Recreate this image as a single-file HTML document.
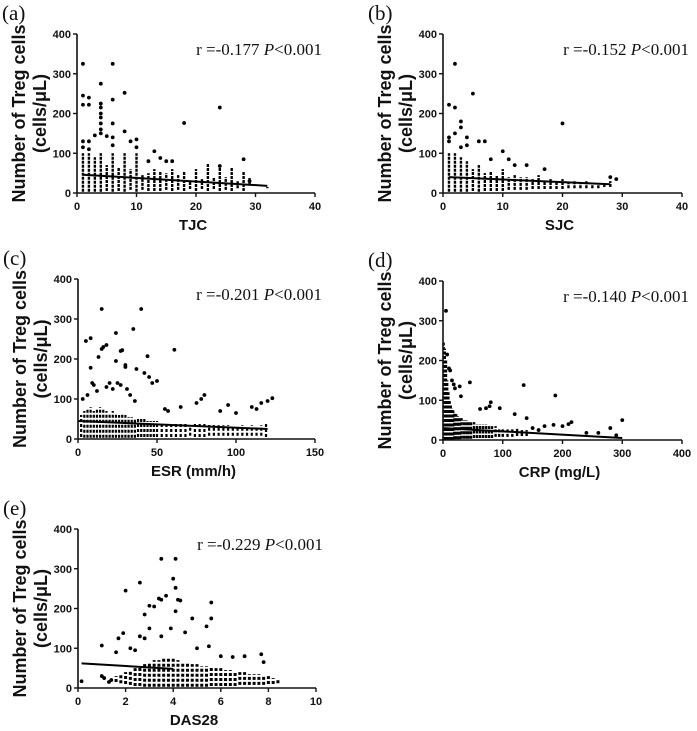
<!DOCTYPE html>
<html><head><meta charset="utf-8"><style>
html,body{margin:0;padding:0;background:#fff;}
svg{display:block;}
.tk{font:bold 11px "Liberation Sans",sans-serif;fill:#111;}
.xt{font:bold 15px "Liberation Sans",sans-serif;fill:#111;}
.yt{font:bold 18px "Liberation Sans",sans-serif;fill:#111;}
.st{font:17px "Liberation Serif",serif;fill:#111;}
.pl{font:21px "Liberation Serif",serif;fill:#111;}
</style></head><body>
<svg id="fig" width="697" height="731" viewBox="0 0 697 731" xmlns="http://www.w3.org/2000/svg"></svg>
<script>
// ---- Panel (a) TJC ----
const tjcColX = [1,2,3,4,5,6,7,8,9,10,11,12,13,14,15,16,17,18,19,20,21,22,23,24,25,26,27,28,29,32];
const tjcColHi = [100,100,90,100,70,100,65,100,60,100,45,50,60,55,50,60,45,55,30,60,35,75,40,65,40,65,30,55,40,15];
const tjcColLo = [3,3,3,3,5,3,5,3,8,3,8,5,5,5,8,5,8,5,10,5,10,5,10,5,8,5,12,5,20,12];
const tjcOutX = [1,1,1,1,2,2,2,4,4,4,4,4,4,4,4,6,6,6,6,8,8,3,5,9,10,10,13,14,15,16,18,24,28,1,2,6,12,24,29];
const tjcOutY = [325,245,222,130,240,222,130,275,225,215,200,190,175,160,150,325,235,175,140,252,155,145,143,130,135,115,105,88,80,80,176,215,85,115,110,120,80,68,30];
const tjcReg = [[1,46],[32,18]];
// ---- Panel (b) SJC ----
const sjcColX = [1,2,3,4,5,6,7,8,9,10,11,12,13,14,15,16,17,18,19,20,21,22,23,24,25,26,27,28];
const sjcColHi = [100,100,90,80,60,70,50,55,45,60,40,45,40,40,35,45,30,35,30,35,25,30,25,30,25,25,20,30];
const sjcColLo = [3,3,3,3,5,3,5,5,5,5,8,8,8,8,10,10,10,10,10,10,12,12,12,12,12,12,15,15];
const sjcOutX = [1,1,2,2,3,3,4,4,5,6,7,10,11,20,14,17,28,29,1,2,3,8,12];
const sjcOutY = [222,130,325,215,180,165,140,120,250,130,130,105,85,175,70,60,40,35,140,150,115,85,70];
const sjcReg = [[1,40],[28,22]];
// ---- Panel (c) ESR ----
const esrColX = [2,4,6,8,10,12,14,16,18,20,22,24,26,28,30,32,34,36,38,40,42,44,46,48,50,53,56,59,62,65,68,71,74,77,80,83,86,89,92,95,98,101,104,107,110,113,116,119];
const esrColHi = [60,70,75,80,70,75,80,75,70,65,70,65,60,65,60,55,55,50,50,50,50,45,45,45,45,40,40,40,40,38,38,35,40,38,40,35,35,35,35,35,30,30,35,30,35,30,35,40];
const esrColLo = [5,3,3,3,3,3,3,3,3,3,3,3,3,3,3,3,3,3,5,5,5,5,5,5,5,5,5,5,5,5,5,8,5,5,5,8,8,8,8,8,8,8,8,8,8,8,8,5];
const esrOutX = [15,40,35,24,5,8,18,16,15,28,27,61,44,13,8,37,30,30,24,42,45,47,50,9,10,20,25,27,22,18,31,6,3,80,78,75,95,110,113,116,120,123,65,55,57,90,100,12,33,36];
const esrOutY = [325,325,275,265,245,252,235,230,225,222,220,223,207,205,178,175,185,180,195,165,155,140,145,140,135,140,140,135,125,130,125,110,100,110,100,90,85,80,75,90,95,102,80,75,70,70,65,120,110,95];
const esrReg = [[0,45],[120,25]];
// ---- Panel (d) CRP ----
const crpColX = [1,3,5,7,9,11,13,15,17,19,22,25,28,31,35,39,43,47,52,57,62,67,72,77,82,88,94,100,108,116,124,132,140];
const crpColHi = [245,230,200,150,120,100,90,80,75,70,65,60,55,55,50,50,45,45,45,40,40,40,40,35,35,35,30,30,30,28,28,25,25];
const crpColLo = [0,0,0,0,0,0,0,0,0,2,2,2,2,3,3,3,3,3,5,5,5,5,5,5,5,8,8,8,8,8,10,10,10];
const crpOutX = [5,7,10,12,28,30,45,135,188,300,290,280,260,240,215,210,200,185,170,160,150,140,120,95,80,78,72,62,15,18,20];
const crpOutY = [325,215,180,175,135,110,145,138,112,50,12,30,18,18,45,40,35,38,35,25,30,55,65,80,95,85,80,78,150,140,130];
const crpReg = [[0,30],[300,5]];
// ---- Panel (e) DAS28 ----
const dasColX = [1.6,1.8,2.0,2.2,2.4,2.6,2.8,3.0,3.2,3.4,3.6,3.8,4.0,4.2,4.4,4.6,4.8,5.0,5.2,5.4,5.6,5.8,6.0,6.2,6.4,6.6,6.8,7.0,7.2,7.4,7.6,7.8,8.0,8.2,8.4];
const dasColHi = [30,35,40,45,50,55,60,65,70,70,75,75,75,70,65,65,60,60,55,55,55,50,50,45,45,40,40,40,35,35,35,30,30,25,20];
const dasColLo = [15,12,10,8,5,5,3,3,3,3,3,3,3,3,3,3,3,3,3,3,5,5,5,5,5,5,8,8,8,8,8,8,10,10,12];
const dasOutX = [0.15,1.0,1.0,1.3,1.4,1.6,1.7,1.9,2.0,2.6,2.6,2.8,3.0,3.2,3.4,3.5,3.5,3.7,3.9,4.0,4.1,4.1,4.2,4.3,4.1,4.8,5.4,5.6,5.6,3.0,2.8,3.5,4.5,5.0,5.5,6.0,6.5,7.0,7.7,7.8,2.4,2.2,1.1];
const dasOutY = [17,107,30,15,20,90,125,138,245,265,130,185,207,205,225,222,325,232,150,275,325,252,222,220,193,175,155,215,175,150,125,130,140,100,105,80,78,80,85,65,95,100,25];
const dasReg = [[0.15,62],[4,48]];

const svg = document.getElementById('fig');
const NS = 'http://www.w3.org/2000/svg';
function mk(tag, attrs, parent){const e=document.createElementNS(NS,tag);for(const k in attrs)e.setAttribute(k,attrs[k]);(parent||svg).appendChild(e);return e;}

const panels = [
 {id:'a',x0:77,x1:315,y0:193,y1:34,xmax:40,xticks:[0,10,20,30,40],xt:'TJC',stat:'-0.177',colX:tjcColX,colHi:tjcColHi,colLo:tjcColLo,ox:tjcOutX,oy:tjcOutY,reg:tjcReg,cw:2.4,dash:'3,1'},
 {id:'b',x0:443,x1:682,y0:193,y1:34,xmax:40,xticks:[0,10,20,30,40],xt:'SJC',stat:'-0.152',colX:sjcColX,colHi:sjcColHi,colLo:sjcColLo,ox:sjcOutX,oy:sjcOutY,reg:sjcReg,cw:2.4,dash:'3,1'},
 {id:'c',x0:78,x1:315,y0:439,y1:279,xmax:150,xticks:[0,50,100,150],xt:'ESR (mm/h)',stat:'-0.201',colX:esrColX,colHi:esrColHi,colLo:esrColLo,ox:esrOutX,oy:esrOutY,reg:esrReg,cw:2.2,dash:'3,2'},
 {id:'d',x0:443,x1:682,y0:440,y1:281,xmax:400,xticks:[0,100,200,300,400],xt:'CRP (mg/L)',stat:'-0.140',colX:crpColX,colHi:crpColHi,colLo:crpColLo,ox:crpOutX,oy:crpOutY,reg:crpReg,cw:2.4,dash:'3,1.5'},
 {id:'e',x0:78,x1:316,y0:688,y1:529,xmax:10,xticks:[0,2,4,6,8,10],xt:'DAS28',stat:'-0.229',colX:dasColX,colHi:dasColHi,colLo:dasColLo,ox:dasOutX,oy:dasOutY,reg:dasReg,cw:3,dash:'3,2'}
];

panels.forEach(p=>{
  const g = mk('g',{});
  
  
  const sx = v => p.x0 + v/p.xmax*(p.x1-p.x0);
  const sy = v => p.y0 - v/400*(p.y0-p.y1);
  const lab = mk('text',{x:p.x0-75,y:p.y1-14,class:'pl'},g); lab.textContent='('+p.id+')';
  
  
  p.colX.forEach((x,i)=>{
    const l = mk('line',{x1:sx(x),x2:sx(x),y1:sy(p.colLo[i]),y2:sy(p.colHi[i]),stroke:'#000','stroke-width':p.cw,'stroke-dasharray':p.dash},g);
    
    
  });
  p.ox.forEach((x,i)=>{
    const c = mk('circle',{cx:sx(x),cy:sy(p.oy[i]),r:1.9,fill:'#000'},g);
    
    
  });
  const rl = mk('line',{x1:sx(p.reg[0][0]),y1:sy(p.reg[0][1]),x2:sx(p.reg[1][0]),y2:sy(p.reg[1][1]),stroke:'#000','stroke-width':2},g);
  
  
  const ax = mk('path',{d:`M${p.x0},${p.y1} V${p.y0} H${p.x1}`,stroke:'#111','stroke-width':1.6,fill:'none'},g);
  
  
  [0,100,200,300,400].forEach(v=>{
    mk('line',{x1:p.x0-4,x2:p.x0,y1:sy(v),y2:sy(v),stroke:'#111','stroke-width':1.4},g);
    const t = mk('text',{x:p.x0-6,y:sy(v)+4,'text-anchor':'end',class:'tk'},g); t.textContent=v;
    
    
  });
  p.xticks.forEach(v=>{
    mk('line',{x1:sx(v),x2:sx(v),y1:p.y0,y2:p.y0+4,stroke:'#111','stroke-width':1.4},g);
    const t = mk('text',{x:sx(v),y:p.y0+17,'text-anchor':'middle',class:'tk'},g); t.textContent=v;
    
    
  });
  const xt = mk('text',{x:(p.x0+p.x1)/2-3,y:p.y0+37,'text-anchor':'middle',class:'xt'},g); xt.textContent=p.xt;
  
  
  const cy=(p.y0+p.y1)/2;
  const yt = mk('text',{transform:`translate(${p.x0-52},${cy}) rotate(-90)`,'text-anchor':'middle',class:'yt'},g);
  
  
  const t1 = mk('tspan',{x:0,y:0},yt); t1.textContent='Number of Treg cells';
  const t2 = mk('tspan',{x:0,y:21},yt); t2.textContent='(cells/\u03bcL)';
  const st = mk('text',{x:p.x1+7,y:p.y1+21,'text-anchor':'end',class:'st'},g);
  
  
  const s1 = mk('tspan',{},st); s1.textContent='r ='+p.stat+' ';
  const s2 = mk('tspan',{'font-style':'italic'},st); s2.textContent='P';
  const s3 = mk('tspan',{},st); s3.textContent='<0.001';
});
</script>
</body></html>
